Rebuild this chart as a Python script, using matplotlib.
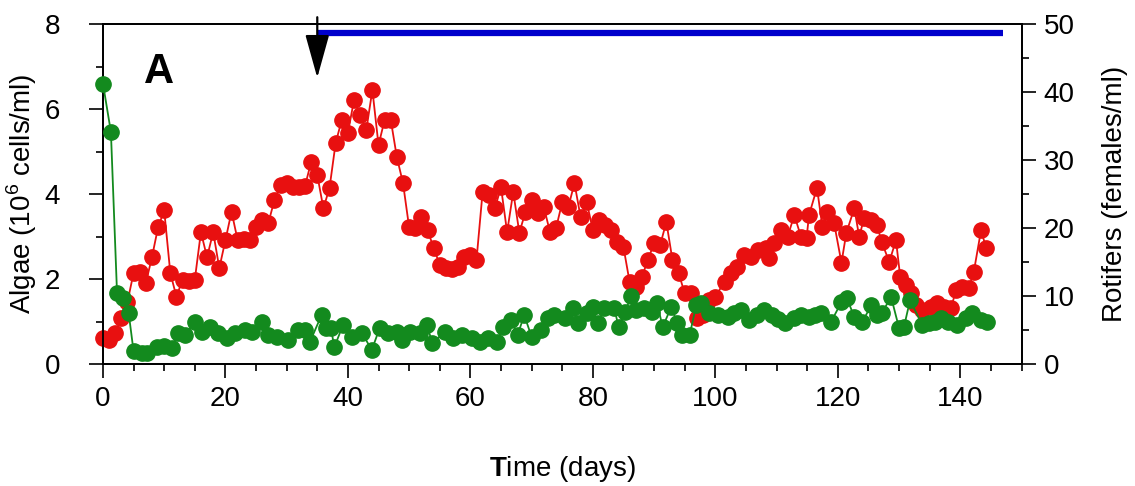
import matplotlib
matplotlib.use("Agg")
import matplotlib.pyplot as plt
from matplotlib.ticker import MultipleLocator

plt.rcParams['font.family'] = ['Liberation Sans', 'DejaVu Sans']
plt.rcParams['mathtext.fontset'] = 'custom'
plt.rcParams['mathtext.rm'] = 'Liberation Sans'
plt.rcParams['mathtext.bf'] = 'Liberation Sans:bold'

# Rotifers (females/ml) - red, right axis
rot_days = [0, 1, 2, 3, 4, 5, 6, 7, 8, 9, 10, 11, 12, 13, 14, 15, 16, 17, 18, 19,
            20, 21, 22, 23, 24, 25, 26, 27, 28, 29, 30, 31, 32, 33, 34, 35, 36, 37, 38, 39,
            40, 41, 42, 43, 44, 45, 46, 47, 48, 49, 50, 51, 52, 53, 54, 55, 56, 57, 58, 59,
            60, 61, 62, 63, 64, 65, 66, 67, 68, 69, 70, 71, 72, 73, 74, 75, 76, 77, 78, 79,
            80, 81, 82, 83, 84, 85, 86, 87, 88, 89, 90, 91, 92, 93, 94, 95, 96, 97, 98, 99,
            100, 101.5, 102.6, 103.6, 104.7, 105.9, 106.9, 108.3, 108.8, 109.6, 110.8, 111.8,
            112.9, 114, 114.9, 115.3, 116.6, 117.5, 118.3, 119.4, 120.6, 121.4, 122.7, 123.5,
            124.3, 125.5, 126.4, 127.2, 128.4, 129.5, 130.2, 131.2, 132, 132.8, 133.8, 135.3,
            136.2, 137.4, 138.5, 139.3, 140.3, 141.4, 142.2, 143.4, 144.2]
rotifers = [3.8, 3.5, 4.5, 6.8, 9.1, 13.4, 13.6, 11.9, 15.7, 20.1, 22.6, 13.4, 9.9, 12.4, 12.2, 12.4, 19.4, 15.7, 19.4, 14.1,
            18.2, 22.4, 18.2, 18.4, 18.2, 20.1, 21.2, 20.7, 24.1, 26.3, 26.6, 26.0, 26.0, 26.2, 29.7, 27.8, 22.9, 25.9, 32.5, 35.9,
            34.0, 38.8, 36.6, 34.4, 40.3, 32.2, 35.9, 35.9, 30.4, 26.6, 20.1, 20.0, 21.6, 19.7, 17.1, 14.6, 14.1, 13.9, 14.3, 15.7,
            16.0, 15.3, 25.3, 24.9, 22.9, 26.0, 19.4, 25.3, 19.3, 22.4, 24.1, 22.2, 23.1, 19.4, 20.0, 23.8, 23.1, 26.6, 21.6, 23.8,
            19.7, 21.2, 20.4, 19.7, 17.9, 17.2, 12.1, 11.3, 12.8, 15.3, 17.8, 17.5, 20.9, 15.3, 13.4, 10.4, 10.4, 6.8, 7.2, 9.4,
            9.9, 12.1, 13.4, 14.3, 16.0, 15.7, 16.8, 17.1, 15.6, 17.8, 19.7, 18.7,
            21.9, 18.7, 18.5, 21.9, 25.9, 20.1, 22.4, 20.7, 14.9, 19.3, 22.9, 18.7,
            21.5, 21.2, 20.4, 17.9, 15.0, 18.2, 12.8, 11.6, 10.4, 8.7, 7.9, 8.4,
            9.0, 8.4, 8.2, 10.9, 11.3, 11.2, 13.5, 19.7, 17.1]

# Algae (10^6 cells/ml) - green, left axis
alg_days = [0, 1.3, 2.3, 3.3, 4.2, 5, 6.3, 7.2, 8.8, 10, 11.3, 12.2, 13.4, 15, 16.1, 17.5, 18.8, 20.2,
            21.5, 23.2, 24.3, 26, 26.9, 28.5, 30.2, 31.8, 33, 33.8, 35.7, 36.5, 37.2, 37.8, 39.2, 40.6,
            42.3, 43.9, 45.2, 46.5, 48, 48.8, 50.1, 51.7, 52.9, 53.8, 55.8, 57.1, 58.6, 60.2, 61.5, 62.8,
            64.4, 65.3, 66.7, 67.7, 68.8, 70, 71.6, 72.6, 73.7, 75.4, 76.7, 77.5, 79, 80, 80.8, 81.9,
            83.5, 84.2, 85.2, 86.3, 87.1, 88.4, 89.6, 90.5, 91.4, 92.8, 93.8, 94.6, 95.8, 96.9, 97.6,
            99, 100.5, 102, 103, 104.2, 105.5, 106.8, 108, 109.3, 110.3, 111.3, 112.9, 114, 115.3, 116.3,
            117.3, 118.9, 120.6, 121.5, 122.7, 124, 125.5, 126.4, 127.2, 128.7, 130, 130.8, 131.8, 133.8,
            134.9, 135.8, 136.9, 138, 139.5, 140.9, 141.9, 143.4, 144.4]
algae = [6.6, 5.46, 1.67, 1.55, 1.2, 0.3, 0.26, 0.27, 0.4, 0.42, 0.38, 0.73, 0.68, 0.99, 0.75, 0.87, 0.73, 0.61,
         0.73, 0.8, 0.75, 0.99, 0.68, 0.64, 0.56, 0.8, 0.8, 0.52, 1.15, 0.85, 0.85, 0.4, 0.92, 0.64,
         0.73, 0.33, 0.85, 0.73, 0.75, 0.56, 0.75, 0.73, 0.92, 0.49, 0.75, 0.61, 0.68, 0.61, 0.52, 0.61,
         0.52, 0.87, 1.04, 0.68, 1.15, 0.64, 0.8, 1.08, 1.15, 1.08, 1.32, 0.96, 1.2, 1.34, 0.96, 1.32,
         1.32, 0.87, 1.22, 1.6, 1.27, 1.32, 1.22, 1.43, 0.87, 1.34, 0.96, 0.68, 0.68, 1.39, 1.43,
         1.2, 1.15, 1.1, 1.2, 1.27, 1.04, 1.15, 1.27, 1.15, 1.05, 0.96, 1.08, 1.15, 1.1, 1.15,
         1.2, 0.99, 1.46, 1.55, 1.1, 0.99, 1.39, 1.15, 1.2, 1.58, 0.85, 0.87, 1.5, 0.92,
         0.96, 1.0, 1.08, 1.0, 0.92, 1.08, 1.2, 1.04, 0.99]

# Treatment period bar (right-axis units)
treat_start, treat_end, treat_level = 35, 147, 48.7

fig = plt.figure(figsize=(11.35, 4.86), dpi=100)
ax = fig.add_axes([0.0907, 0.251, 0.8093, 0.6996])
ax2 = ax.twinx()

green = '#138a1e'
red = '#e81010'

ax.plot(alg_days, algae, '-o', color=green, lw=1.3, ms=11, mec=green, clip_on=False, zorder=3)
ax2.plot(rot_days, rotifers, '-o', color=red, lw=1.3, ms=11, mec=red, clip_on=False, zorder=3)
ax2.plot([treat_start, treat_end], [treat_level, treat_level], color='#0000cc', lw=4.5,
         solid_capstyle='butt', zorder=4)
ax2.annotate('', xy=(treat_start, 42.1), xytext=(treat_start, 51.0),
             arrowprops=dict(arrowstyle='-|>,head_length=2.7,head_width=0.75', color='black',
                             lw=1.6, shrinkA=0, shrinkB=0, mutation_scale=10),
             annotation_clip=False, zorder=5)

ax.set_xlim(0, 150)
ax.set_ylim(0, 8)
ax2.set_ylim(0, 50)

ax.xaxis.set_major_locator(MultipleLocator(20))
ax.xaxis.set_minor_locator(MultipleLocator(5))
ax.yaxis.set_major_locator(MultipleLocator(2))
ax.yaxis.set_minor_locator(MultipleLocator(1))
ax2.yaxis.set_major_locator(MultipleLocator(10))
ax2.yaxis.set_minor_locator(MultipleLocator(5))

for a in (ax, ax2):
    a.tick_params(which='major', direction='out', length=10, width=1.2, labelsize=20, pad=6)
    a.tick_params(which='minor', direction='out', length=5, width=1.2)
    for s in a.spines.values():
        s.set_linewidth(1.3)
ax.tick_params(axis='x', top=False)
ax.tick_params(axis='y', which='major', pad=21)

ax.set_xlabel(r'$\mathbf{T}$ime (days)', fontsize=20, labelpad=30)
ax.set_ylabel('Algae (10$^6$ cells/ml)', fontsize=20, labelpad=4)
ax2.set_ylabel('Rotifers (females/ml)', fontsize=20, labelpad=20)

ax.text(0.045, 0.86, 'A', transform=ax.transAxes, fontsize=30, fontweight='bold', va='center')

ax.set_zorder(ax2.get_zorder() + 1)
ax.patch.set_visible(False)

fig.savefig('out.png', dpi=100)
